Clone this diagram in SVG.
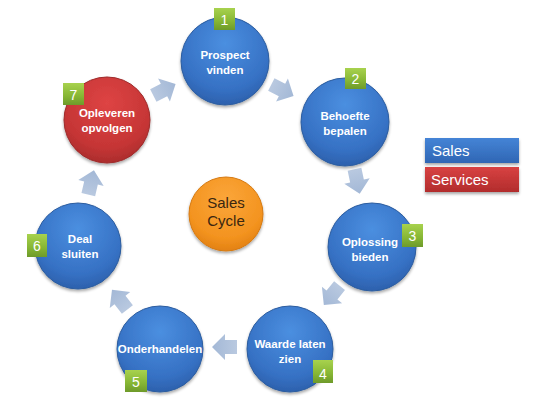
<svg xmlns="http://www.w3.org/2000/svg" width="534" height="409" viewBox="0 0 534 409">
<defs>
<radialGradient id="gBlue" cx="0.5" cy="0.3" r="0.75">
<stop offset="0" stop-color="#4b8fe0"/>
<stop offset="0.7" stop-color="#3671c4"/>
<stop offset="1" stop-color="#2a5ca6"/>
</radialGradient>
<radialGradient id="gRed" cx="0.5" cy="0.3" r="0.75">
<stop offset="0" stop-color="#de4444"/>
<stop offset="0.7" stop-color="#c53535"/>
<stop offset="1" stop-color="#a42a2a"/>
</radialGradient>
<radialGradient id="gOrange" cx="0.5" cy="0.3" r="0.75">
<stop offset="0" stop-color="#fba63a"/>
<stop offset="0.7" stop-color="#f3931f"/>
<stop offset="1" stop-color="#de7c10"/>
</radialGradient>
<linearGradient id="gGreen" x1="0" y1="0" x2="0" y2="1">
<stop offset="0" stop-color="#a8d24e"/>
<stop offset="0.6" stop-color="#86b634"/>
<stop offset="1" stop-color="#6e9a2a"/>
</linearGradient>
<linearGradient id="gLegBlue" x1="0" y1="0" x2="0" y2="1">
<stop offset="0" stop-color="#4584d6"/>
<stop offset="1" stop-color="#2f66b4"/>
</linearGradient>
<linearGradient id="gLegRed" x1="0" y1="0" x2="0" y2="1">
<stop offset="0" stop-color="#d84242"/>
<stop offset="1" stop-color="#b22c2c"/>
</linearGradient>
<linearGradient id="gArrow" x1="0" y1="0" x2="1" y2="0">
<stop offset="0" stop-color="#b9c9e0"/>
<stop offset="1" stop-color="#a3b8d6"/>
</linearGradient>
<filter id="sh" x="-20%" y="-20%" width="140%" height="150%">
<feGaussianBlur in="SourceAlpha" stdDeviation="1.5"/>
<feOffset dy="2" result="b"/>
<feComponentTransfer><feFuncA type="linear" slope="0.35"/></feComponentTransfer>
<feMerge><feMergeNode/><feMergeNode in="SourceGraphic"/></feMerge>
</filter>
<path id="arrow" d="M-12,-7 L0,-7 L0,-13 L13,0 L0,13 L0,7 L-12,7 Z" fill="url(#gArrow)"/>
</defs>
<style>
.blue{fill:url(#gBlue);stroke:#2b5c9f;stroke-width:1}
.red{fill:url(#gRed);stroke:#9e2a2a;stroke-width:1}
.orange{fill:url(#gOrange);stroke:#d67a12;stroke-width:1}
.lbl{font-family:"Liberation Sans",Arial,sans-serif;font-weight:bold;font-size:11.5px;fill:#ffffff;text-anchor:middle}
.badge{fill:url(#gGreen)}
.num{font-family:"Liberation Sans",Arial,sans-serif;font-size:14px;fill:#ffffff;text-anchor:middle}
.ctr{font-family:"Liberation Sans",Arial,sans-serif;font-size:15px;fill:#3a2610;text-anchor:middle}
.leg{font-family:"Liberation Sans",Arial,sans-serif;font-size:15px;fill:#ffffff}
</style>
<rect width="534" height="409" fill="#ffffff"/>
<g id="connectors">
<use href="#arrow" transform="translate(164,90) rotate(-27)"/>
<use href="#arrow" transform="translate(282,90) rotate(27)"/>
<use href="#arrow" transform="translate(357,181) rotate(78)"/>
<use href="#arrow" transform="translate(332,295) rotate(129)"/>
<use href="#arrow" transform="translate(225,347) rotate(180)"/>
<use href="#arrow" transform="translate(120,300) rotate(-128)"/>
<use href="#arrow" transform="translate(91,183) rotate(-77)"/>
</g>
<g id="node1">
<circle cx="225" cy="61" r="44" class="blue" filter="url(#sh)"/>
<text class="lbl" x="225" y="59">Prospect</text>
<text class="lbl" x="225" y="74">vinden</text>
<rect x="214" y="8" width="21" height="22" class="badge"/>
<text class="num" x="224.5" y="25">1</text>
</g>
<g id="node2">
<circle cx="345" cy="122" r="44" class="blue" filter="url(#sh)"/>
<text class="lbl" x="345" y="120">Behoefte</text>
<text class="lbl" x="345" y="135">bepalen</text>
<rect x="345" y="68" width="21" height="21" class="badge"/>
<text class="num" x="355.5" y="84">2</text>
</g>
<g id="node3">
<circle cx="372" cy="247" r="44" class="blue" filter="url(#sh)"/>
<text class="lbl" x="370" y="246">Oplossing</text>
<text class="lbl" x="370" y="261">bieden</text>
<rect x="402" y="224" width="21" height="23" class="badge"/>
<text class="num" x="412.5" y="241">3</text>
</g>
<g id="node4">
<circle cx="290" cy="349" r="43" class="blue" filter="url(#sh)"/>
<text class="lbl" x="290" y="348">Waarde laten</text>
<text class="lbl" x="290" y="363">zien</text>
<rect x="313" y="360" width="20" height="23" class="badge"/>
<text class="num" x="323" y="379">4</text>
</g>
<g id="node5">
<circle cx="160" cy="349" r="43" class="blue" filter="url(#sh)"/>
<text class="lbl" x="160" y="353">Onderhandelen</text>
<rect x="125" y="370" width="22" height="22" class="badge"/>
<text class="num" x="136" y="387">5</text>
</g>
<g id="node6">
<circle cx="78" cy="246" r="43" class="blue" filter="url(#sh)"/>
<text class="lbl" x="80" y="243">Deal</text>
<text class="lbl" x="80" y="258">sluiten</text>
<rect x="27" y="234" width="20" height="23" class="badge"/>
<text class="num" x="37" y="251">6</text>
</g>
<g id="node7">
<circle cx="107" cy="120" r="43" class="red" filter="url(#sh)"/>
<text class="lbl" x="107" y="117">Opleveren</text>
<text class="lbl" x="107" y="132">opvolgen</text>
<rect x="63" y="83" width="21" height="22" class="badge"/>
<text class="num" x="73.5" y="100">7</text>
</g>
<g id="center">
<circle cx="226" cy="214" r="37" class="orange" filter="url(#sh)"/>
<text class="ctr" x="226" y="208">Sales</text>
<text class="ctr" x="226" y="226">Cycle</text>
</g>
<g id="legend">
<rect x="425" y="138" width="94" height="25" fill="url(#gLegBlue)" filter="url(#sh)"/>
<text class="leg" x="432" y="156">Sales</text>
<rect x="425" y="167" width="94" height="25" fill="url(#gLegRed)" filter="url(#sh)"/>
<text class="leg" x="431" y="185">Services</text>
</g>
</svg>
